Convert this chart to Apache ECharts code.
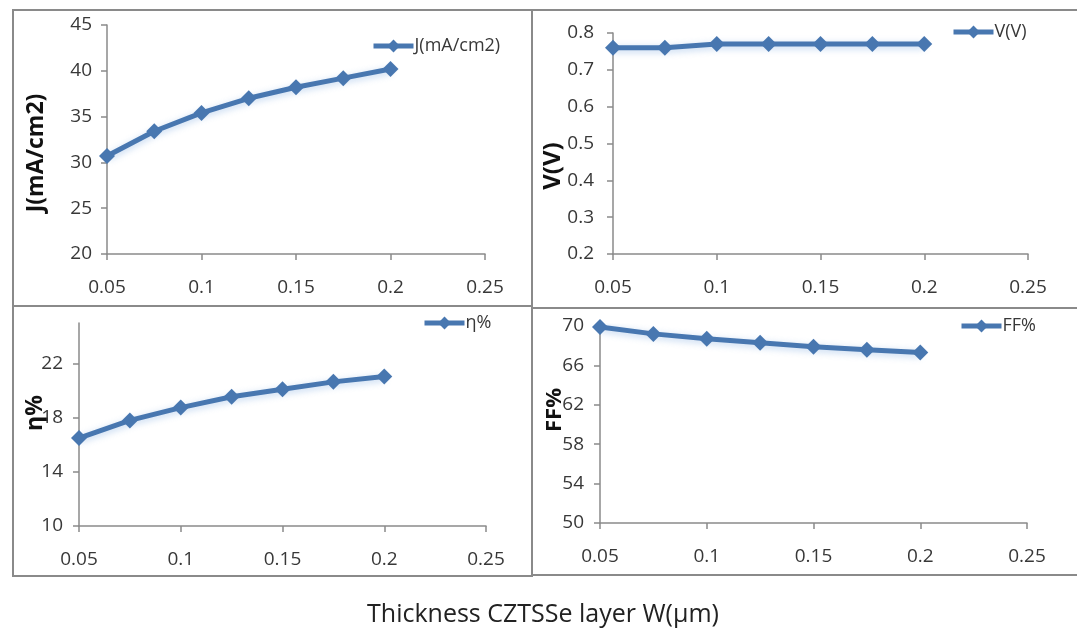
<!DOCTYPE html>
<html>
<head>
<meta charset="utf-8">
<script src="https://cdn.jsdelivr.net/npm/echarts@6/dist/echarts.min.js"></script>
<style>
html,body{margin:0;padding:0;background:#fff;}
#chart{width:1077px;height:637px;}
</style>
</head>
<body>
<div id="chart"></div>
<script>
// ---- data ----
var thickness = [0.05, 0.075, 0.1, 0.125, 0.15, 0.175, 0.2];
var jValues   = [30.7, 33.4, 35.4, 37.0, 38.2, 39.2, 40.2];
var vValues   = [0.76, 0.76, 0.77, 0.77, 0.77, 0.77, 0.77];
var etaValues = [16.5, 17.8, 18.75, 19.55, 20.1, 20.65, 21.05];
var ffValues  = [69.9, 69.2, 68.7, 68.3, 67.9, 67.6, 67.3];

var xTicks   = [0.05, 0.1, 0.15, 0.2, 0.25];
var jTicks   = [20, 25, 30, 35, 40, 45];
var vTicks   = [0.2, 0.3, 0.4, 0.5, 0.6, 0.7, 0.8];
var etaTicks = [10, 14, 18, 22];
var ffTicks  = [50, 54, 58, 62, 66, 70];

var seriesNames = ['J(mA/cm2)', 'V(V)', 'η%', 'FF%'];
var axisTitles  = ['J(mA/cm2)', 'V(V)', 'η%', 'FF%'];
var xTitle = 'Thickness CZTSSe layer W(μm)';

// ---- styles ----
var LINE = '#4877b0';
var AXIS = '#8a8a8a';
var TXT = '#383838';
var FONT = '"Open Sans", "DejaVu Sans", sans-serif';

function pair(v){ return thickness.map(function(x,i){ return [x, v[i]]; }); }

var grids = [
  {left:107, top:25,  width:378, height:229},
  {left:613, top:33,  width:415, height:221},
  {left:79,  top:323, width:407, height:203},
  {left:600, top:326, width:427, height:197}
];
var yCfg = [
  {min:20,  max:45,  ticks:jTicks,   margin:15},
  {min:0.2, max:0.8, ticks:vTicks,   margin:19},
  {min:10,  max:25,  ticks:etaTicks, margin:16},
  {min:50,  max:70,  ticks:ffTicks,  margin:16}
];
var dataSets = [jValues, vValues, etaValues, ffValues];

var xAxes = [], yAxes = [], series = [], legends = [];
var legendPos = [
  {left:371, top:37},
  {left:951, top:23},
  {left:422, top:314},
  {left:959, top:317}
];

for (var i = 0; i < 4; i++) {
  xAxes.push({
    type:'value', gridIndex:i, min:0.05, max:0.25, interval:0.05,
    axisLine:{show:true, lineStyle:{color:AXIS, width:1.5}},
    axisTick:{show:true, inside:false, length:6, lineStyle:{color:AXIS, width:1.5}, customValues: xTicks},
    axisLabel:{color:TXT, fontSize:19, fontFamily:FONT, margin:24, customValues: xTicks,
      formatter:function(v){ return String(Math.round(v*1000)/1000); }},
    splitLine:{show:false}
  });
  yAxes.push({
    type:'value', gridIndex:i, min:yCfg[i].min, max:yCfg[i].max,
    axisLine:{show:true, lineStyle:{color:AXIS, width:1.5}},
    axisTick:{show:true, inside:false, length:6, lineStyle:{color:AXIS, width:1.5}, customValues: yCfg[i].ticks},
    axisLabel:{color:TXT, fontSize:19, fontFamily:FONT, margin:yCfg[i].margin, customValues: yCfg[i].ticks,
      formatter:function(v){ return String(Math.round(v*100)/100); }},
    splitLine:{show:false}
  });
  series.push({
    name:seriesNames[i], type:'line', xAxisIndex:i, yAxisIndex:i,
    data:pair(dataSets[i]),
    symbol:'diamond', symbolSize:16,
    lineStyle:{color:LINE, width:5, shadowColor:'rgba(110,160,220,0.45)', shadowBlur:7, shadowOffsetY:2},
    itemStyle:{color:LINE},
    animation:false
  });
  legends.push({
    data:[seriesNames[i]], left:legendPos[i].left, top:legendPos[i].top,
    itemWidth:40, itemHeight:16, itemGap:0, padding:0,
    lineStyle:{width:5},
    textStyle:{color:TXT, fontSize:18, fontFamily:FONT, padding:[0,0,0,-4]}
  });
}

var chart = echarts.init(document.getElementById('chart'), null, {renderer:'canvas'});
chart.setOption({
  backgroundColor:'#fff',
  animation:false,
  grid:grids,
  xAxis:xAxes,
  yAxis:yAxes,
  legend:legends,
  series:series,
  graphic:[
    // panel frames
    {type:'rect', shape:{x:13, y:10, width:519, height:296}, style:{fill:null, stroke:AXIS, lineWidth:2}, silent:true},
    {type:'rect', shape:{x:532, y:10, width:560, height:298}, style:{fill:null, stroke:AXIS, lineWidth:2}, silent:true},
    {type:'rect', shape:{x:13, y:306, width:519, height:270}, style:{fill:null, stroke:AXIS, lineWidth:2}, silent:true},
    {type:'rect', shape:{x:532, y:308, width:560, height:267}, style:{fill:null, stroke:AXIS, lineWidth:2}, silent:true},
    // axis titles
    {type:'text', x:36, y:153, rotation:Math.PI/2, style:{text:axisTitles[0], font:'bold 23px ' + FONT, fill:'#111', align:'center', verticalAlign:'middle'}},
    {type:'text', x:553, y:166, rotation:Math.PI/2, style:{text:axisTitles[1], font:'bold 24px ' + FONT, fill:'#111', align:'center', verticalAlign:'middle'}},
    {type:'text', x:35, y:413, rotation:Math.PI/2, style:{text:axisTitles[2], font:'bold 23px ' + FONT, fill:'#111', align:'center', verticalAlign:'middle'}},
    {type:'text', x:555, y:410, rotation:Math.PI/2, style:{text:axisTitles[3], font:'bold 22px ' + FONT, fill:'#111', align:'center', verticalAlign:'middle'}},
    // x title
    {type:'text', x:543, y:615, style:{text:xTitle, font:'25px ' + FONT, fill:'#222', align:'center', verticalAlign:'middle'}}
  ]
});
</script>
</body>
</html>
